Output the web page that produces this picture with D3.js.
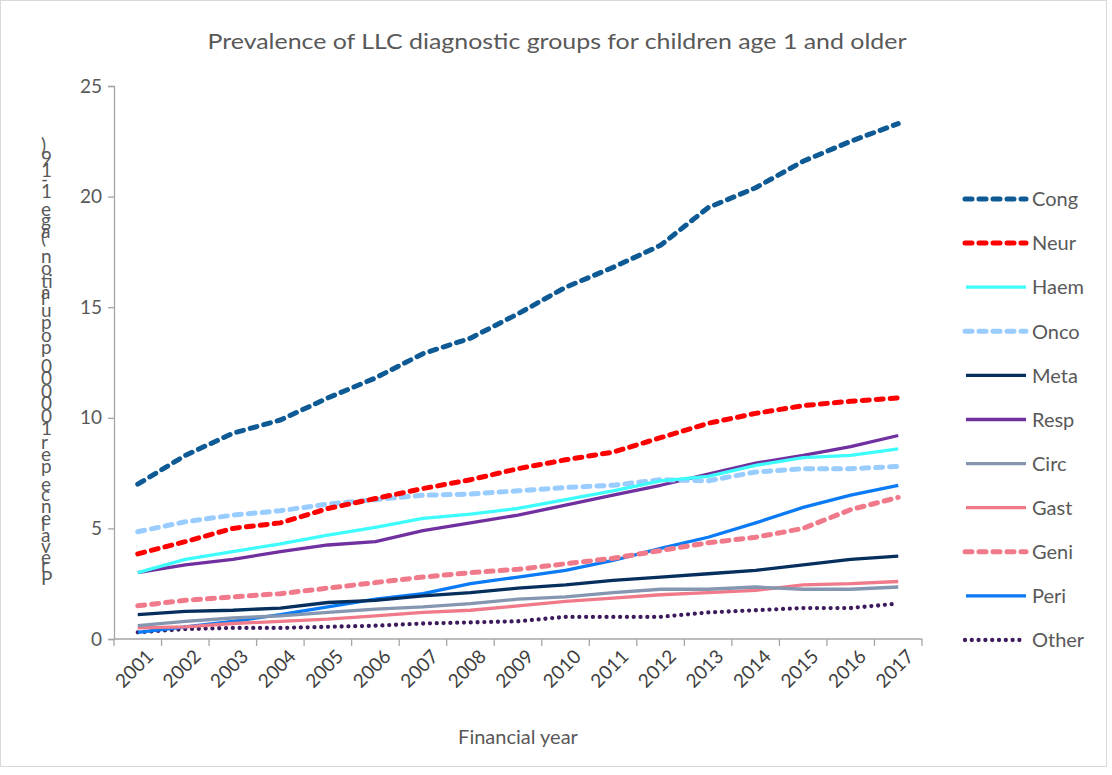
<!DOCTYPE html>
<html lang="en">
<head>
    <meta charset="UTF-8">
    <title>LLC prevalence</title>
    <script src="https://cdn.jsdelivr.net/npm/d3@7"></script>
    <style>
        body { margin: 0; background: #ffffff; }
        text { font-family: Lato, "Open Sans", sans-serif; fill: #595959; }
    </style>
</head>
<body>
    <div id="chart"></div>
    <script>
        // Prevalence of LLC diagnostic groups, one line per group

        const years = ["2001","2002","2003","2004","2005","2006","2007","2008","2009",
                       "2010","2011","2012","2013","2014","2015","2016","2017"];
        const yTicks = [0, 5, 10, 15, 20, 25];

        const cong  = [7.0, 8.3, 9.3, 9.9, 10.9, 11.8, 12.9, 13.6, 14.7, 15.9, 16.8, 17.8, 19.5, 20.4, 21.6, 22.5, 23.3];
        const neur  = [3.85, 4.4, 5.0, 5.25, 5.9, 6.35, 6.8, 7.2, 7.7, 8.1, 8.45, 9.1, 9.75, 10.2, 10.55, 10.75, 10.9];
        const haem  = [3.0, 3.6, 3.95, 4.3, 4.7, 5.05, 5.45, 5.65, 5.9, 6.3, 6.7, 7.15, 7.35, 7.85, 8.2, 8.3, 8.6];
        const onco  = [4.85, 5.3, 5.6, 5.8, 6.1, 6.3, 6.5, 6.55, 6.7, 6.85, 6.95, 7.2, 7.15, 7.55, 7.7, 7.7, 7.8];
        const meta  = [1.1, 1.25, 1.3, 1.4, 1.65, 1.75, 1.95, 2.1, 2.3, 2.45, 2.65, 2.8, 2.95, 3.1, 3.35, 3.6, 3.75];
        const resp  = [3.0, 3.35, 3.6, 3.95, 4.25, 4.4, 4.9, 5.25, 5.6, 6.05, 6.5, 6.95, 7.45, 7.95, 8.3, 8.7, 9.2];
        const circ  = [0.6, 0.8, 0.95, 1.05, 1.2, 1.35, 1.45, 1.6, 1.8, 1.9, 2.1, 2.25, 2.25, 2.35, 2.25, 2.25, 2.35];
        const gast  = [0.5, 0.55, 0.7, 0.8, 0.9, 1.05, 1.2, 1.3, 1.5, 1.7, 1.85, 2.0, 2.1, 2.2, 2.45, 2.5, 2.6];
        const geni  = [1.5, 1.75, 1.9, 2.05, 2.3, 2.55, 2.8, 3.0, 3.15, 3.4, 3.65, 4.0, 4.35, 4.6, 5.0, 5.85, 6.4];
        const peri  = [0.3, 0.55, 0.8, 1.1, 1.45, 1.8, 2.05, 2.5, 2.8, 3.1, 3.55, 4.1, 4.6, 5.25, 5.95, 6.5, 6.95];
        const other = [0.3, 0.45, 0.5, 0.5, 0.55, 0.6, 0.7, 0.75, 0.8, 1.0, 1.0, 1.0, 1.2, 1.3, 1.4, 1.4, 1.6];

        const seriesNames = ["Cong","Neur","Haem","Onco","Meta","Resp","Circ","Gast","Geni","Peri","Other"];
        const seriesValues = [cong, neur, haem, onco, meta, resp, circ, gast, geni, peri, other];

        // styles per series
        const styles = {
            Cong:  {color: "#0d5a94", width: 5,   dash: "7,7",  cap: "round"},
            Neur:  {color: "#ff0000", width: 5,   dash: "7,7",  cap: "round"},
            Haem:  {color: "#3ffcfc", width: 3.3, dash: null,   cap: "butt"},
            Onco:  {color: "#99ccff", width: 5,   dash: "7,7",  cap: "round"},
            Meta:  {color: "#062f5e", width: 3.3, dash: null,   cap: "butt"},
            Resp:  {color: "#7030a0", width: 3.3, dash: null,   cap: "butt"},
            Circ:  {color: "#8496b0", width: 3.3, dash: null,   cap: "butt"},
            Gast:  {color: "#f07a8a", width: 3.3, dash: null,   cap: "butt"},
            Geni:  {color: "#f07a8a", width: 5,   dash: "7,7",  cap: "round"},
            Peri:  {color: "#0a7af5", width: 3.3, dash: null,   cap: "butt"},
            Other: {color: "#3c1a5c", width: 4.3, dash: "0,6.8", cap: "round"}
        };

        const W = 1112, H = 775;
        const plot = {left: 114, right: 922, top: 86, bottom: 639};

        const svg = d3.select("#chart")
            .append("svg")
            .attr("width", W)
            .attr("height", H);

        svg.append("rect")
            .attr("x", 0.5).attr("y", 0.5)
            .attr("width", 1106).attr("height", 766)
            .attr("fill", "#ffffff")
            .attr("stroke", "#d9d9d9");

        const x = d3.scaleBand()
            .domain(years)
            .range([plot.left, plot.right]);

        const y = d3.scaleLinear()
            .domain([0, 25])
            .range([plot.bottom, plot.top]);

        // Y axis
        const yAxis = svg.append("g")
            .attr("transform", `translate(${plot.left},0)`)
            .call(d3.axisLeft(y).tickValues(yTicks).tickSize(6).tickPadding(6));
        yAxis.select(".domain").attr("stroke", "#a6a6a6").attr("stroke-width", 1.3);
        yAxis.selectAll(".tick line").attr("stroke", "#a6a6a6").attr("stroke-width", 1.3);
        yAxis.selectAll(".tick text")
            .style("font-family", "Lato, sans-serif")
            .attr("font-size", 19)
            .attr("fill", "#595959");

        // X axis: ticks sit between categories
        const xAxis = svg.append("g")
            .attr("transform", `translate(0,${plot.bottom})`);
        xAxis.append("line")
            .attr("x1", plot.left).attr("x2", plot.right)
            .attr("stroke", "#a6a6a6").attr("stroke-width", 1.3);
        xAxis.selectAll(".xtick")
            .data(years.concat(["end"]))
            .enter()
            .append("line")
            .attr("x1", (d, i) => plot.left + i * x.step())
            .attr("x2", (d, i) => plot.left + i * x.step())
            .attr("y1", 0).attr("y2", 7)
            .attr("stroke", "#a6a6a6").attr("stroke-width", 1.3);
        xAxis.selectAll(".xlabel")
            .data(years)
            .enter()
            .append("text")
            .attr("transform", d => `translate(${x(d) + x.bandwidth() / 2 + 12},${14}) rotate(-45)`)
            .attr("text-anchor", "end")
            .attr("dy", "0.35em")
            .attr("font-size", 19)
            .style("fill", "#404040")
            .text(d => d);

        // lines
        const line = d3.line()
            .x((d, i) => x(years[i]) + x.bandwidth() / 2)
            .y(d => y(d));

        // draw in reverse so Cong ends on top
        seriesNames.slice().reverse().forEach(name => {
            const vals = seriesValues[seriesNames.indexOf(name)];
            const s = styles[name];
            svg.append("path")
                .datum(vals)
                .attr("fill", "none")
                .attr("stroke", s.color)
                .attr("stroke-width", s.width)
                .attr("stroke-dasharray", s.dash)
                .attr("stroke-linecap", s.cap)
                .attr("stroke-linejoin", "round")
                .attr("d", line);
        });

        // legend
        const legend = svg.append("g").attr("transform", "translate(962,199)");
        const rowGap = 44.1;
        seriesNames.forEach((name, i) => {
            const s = styles[name];
            const g = legend.append("g").attr("transform", `translate(0,${i * rowGap})`);
            const dashed = s.dash !== null;
            g.append("line")
                .attr("x1", dashed ? 3 : 4)
                .attr("x2", 64)
                .attr("stroke", s.color)
                .attr("stroke-width", s.width)
                .attr("stroke-dasharray", s.dash)
                .attr("stroke-linecap", s.cap);
            g.append("text")
                .attr("x", 70)
                .attr("dy", "0.36em")
                .attr("font-size", 20)
                .text(name);
        });

        // titles
        svg.append("text")
            .attr("x", 557).attr("y", 49)
            .attr("text-anchor", "middle")
            .attr("font-size", 21)
            .attr("textLength", 699)
            .attr("lengthAdjust", "spacingAndGlyphs")
            .text("Prevalence of LLC diagnostic groups for children age 1 and older");

        svg.append("text")
            .attr("x", 518).attr("y", 744)
            .attr("text-anchor", "middle")
            .attr("font-size", 20)
            .text("Financial year");

        // y title: upright glyphs stacked bottom to top
        svg.append("text")
            .attr("transform", "translate(41,585) rotate(-90)")
            .attr("rotate", 90)
            .attr("font-size", 19)
            .attr("textLength", 438)
            .attr("lengthAdjust", "spacing")
            .text("Prevalence per 100000 population (age 1-19)");
    </script>
</body>
</html>
